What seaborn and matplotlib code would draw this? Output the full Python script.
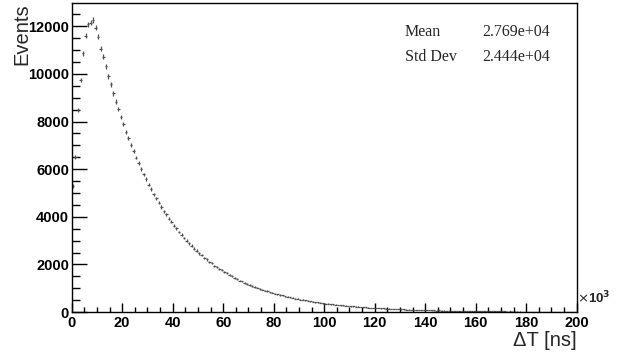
import numpy as np
import matplotlib
matplotlib.use("Agg")
import matplotlib.pyplot as plt
from matplotlib.ticker import MultipleLocator
import seaborn as sns

# histogram of time differences, 200 bins of 1 us (x in units of 10^3 ns)
bin_edges = np.arange(0, 201, 1)
counts = [
    5300, 6520, 8490, 9750, 10870, 11610, 12080, 12150, 12270, 11950,
    11560, 11050, 10730, 10320, 9900, 9560, 9190, 8840, 8520, 8190,
    7900, 7560, 7300, 7010, 6760, 6490, 6260, 6020, 5780, 5580,
    5350, 5160, 4950, 4780, 4600, 4410, 4240, 4100, 3920, 3790,
    3630, 3510, 3360, 3250, 3110, 3000, 2880, 2790, 2660, 2580,
    2460, 2390, 2280, 2210, 2110, 2050, 1950, 1900, 1800, 1750,
    1670, 1620, 1550, 1500, 1430, 1390, 1320, 1285, 1225, 1190,
    1135, 1100, 1050, 1020, 970, 945, 900, 875, 830, 810,
    770, 750, 712, 695, 660, 642, 610, 595, 565, 550,
    522, 510, 484, 472, 448, 437, 414, 404, 383, 375,
    355, 346, 328, 322, 303, 298, 281, 276, 260, 255,
    240, 236, 222, 219, 205, 202, 190, 188, 176, 174,
    163, 161, 150, 149, 139, 138, 128, 128, 119, 118,
    110, 109, 102, 101, 94, 93, 87, 87, 80, 80,
    74, 74, 68, 69, 63, 64, 58, 59, 54, 55,
    50, 51, 46, 47, 43, 44, 40, 40, 37, 37,
    34, 35, 31, 32, 29, 30, 27, 28, 25, 26,
    23, 24, 21, 22, 20, 20, 18, 19, 17, 17,
    16, 16, 14, 15, 13, 14, 12, 13, 11, 12,
    11, 11, 10, 10, 9, 9, 8, 8, 7, 7,
]
stats_labels = ["Mean", "Std Dev"]
stats_values = ["2.769e+04", "2.444e+04"]

sns.set_style("ticks")
plt.rcParams["font.family"] = ["Liberation Sans", "DejaVu Sans"]

centers = 0.5 * (bin_edges[:-1] + bin_edges[1:])
y = np.array(counts, dtype=float)

fig = plt.figure(figsize=(6.19, 3.53), dpi=100)
ax = fig.add_axes([0.1158, 0.1161, 0.8159, 0.8746])

ax.errorbar(centers, y, xerr=0.5, yerr=np.sqrt(y), fmt="none",
            ecolor="#505050", elinewidth=0.9, capsize=0)

ax.set_xlim(0, 200)
ax.set_ylim(0, 12970)

ax.xaxis.set_major_locator(MultipleLocator(20))
ax.xaxis.set_minor_locator(MultipleLocator(5))
ax.yaxis.set_major_locator(MultipleLocator(2000))
ax.yaxis.set_minor_locator(MultipleLocator(500))

ax.tick_params(axis="both", which="both", direction="in", width=1.0,
               top=False, right=False, bottom=True, left=True,
               colors="black")
ax.tick_params(axis="y", which="major", length=10.8, pad=2, labelsize=10.5)
ax.tick_params(axis="y", which="minor", length=5.5)
ax.tick_params(axis="x", which="major", length=6.5, pad=3, labelsize=10.5)
ax.tick_params(axis="x", which="minor", length=3.4)
for lab in ax.get_xticklabels() + ax.get_yticklabels():
    lab.set_fontweight("bold")

for side in ["left", "bottom", "top", "right"]:
    ax.spines[side].set_visible(True)
    ax.spines[side].set_color("black")
    ax.spines[side].set_linewidth(1.0)

ax.set_ylabel("Events", fontsize=14.5)
ax.yaxis.set_label_coords(-0.08, 1.0)
ax.yaxis.label.set_horizontalalignment("right")
ax.set_xlabel("\u0394T [ns]", fontsize=14.5)
ax.xaxis.set_label_coords(1.0, -0.06)
ax.xaxis.label.set_horizontalalignment("right")
ax.xaxis.label.set_verticalalignment("top")

ax.text(1.0, 0.045, r"$\times$10$^{\mathbf{3}}$", transform=ax.transAxes,
        fontsize=9.5, fontweight="bold", ha="left", va="center")

for i, (lab, val) in enumerate(zip(stats_labels, stats_values)):
    yy = 0.907 - i * 0.081
    ax.text(0.66, yy, lab, transform=ax.transAxes, fontsize=11.5,
            family="Liberation Serif", ha="left", va="center")
    ax.text(0.813, yy, val, transform=ax.transAxes, fontsize=11.5,
            family="Liberation Serif", ha="left", va="center")

fig.savefig("out.png", dpi=100)
